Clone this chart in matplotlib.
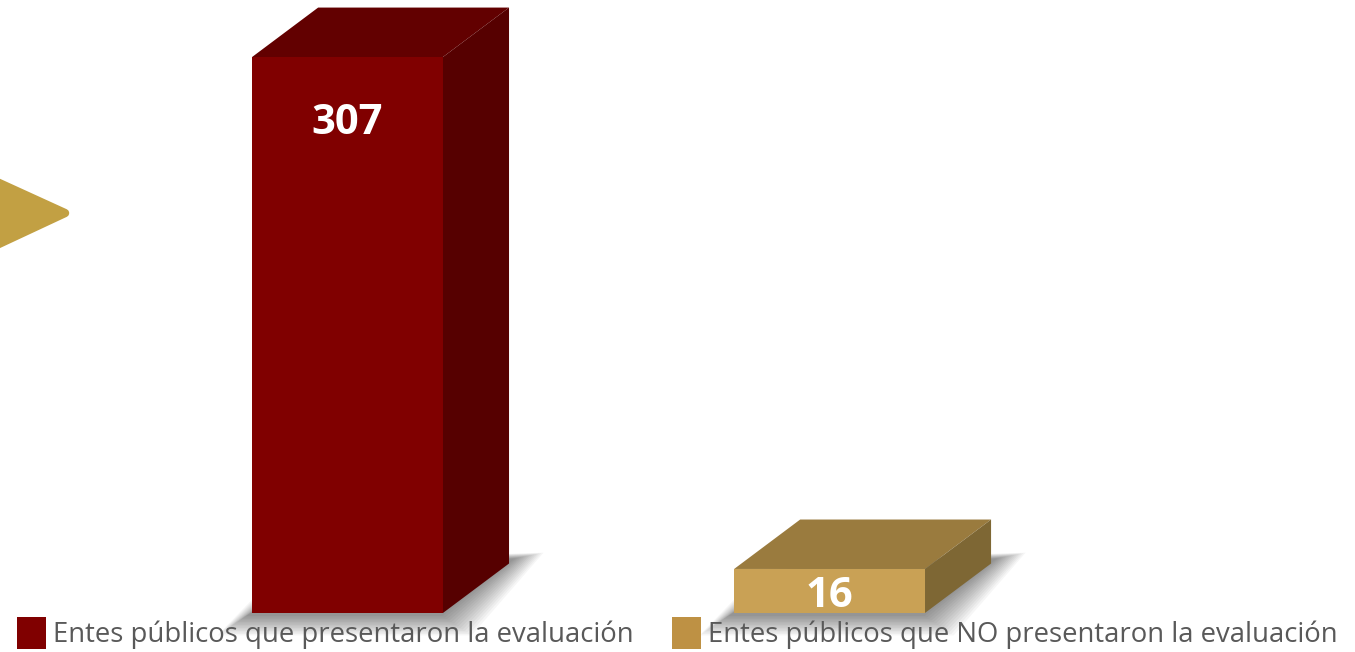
import numpy as np
import matplotlib
matplotlib.use("Agg")
from matplotlib import pyplot as plt
from matplotlib.patches import Polygon, Rectangle

# Données
categorias = ["Entes públicos que presentaron la evaluación",
              "Entes públicos que NO presentaron la evaluación"]
valores = [307, 16]

# Couleurs (face avant, dessus, côté)
col_front = ["#800000", "#C9A155"]
col_top = ["#620000", "#9A7B3E"]
col_side = ["#560000", "#7E6734"]
col_leg = ["#800000", "#BE9144"]

# Mise en page
y_floor = -9          # base du graphique 3D
larg = 0.396          # largeur des barres
prof_x, prof_y = 0.137, 28.1  # profondeur 3D

fig = plt.figure(figsize=(13.55, 6.52), dpi=100)
ax = fig.add_axes([0, 0, 1, 1])
ax.set_xlim(-0.721, 2.090)
ax.set_ylim(-31.2, 339.4)
ax.axis("off")

px_x = 482.0   # pixels par unité x
px_y = 1.7595  # pixels par unité y

for i, v in enumerate(valores):
    x0, x1 = i - larg / 2, i + larg / 2
    # ombre floue
    for k in range(14):
        ex = (k * 2.2) / px_x
        ey = (k * 1.5) / px_y
        sh = y_floor - 3 / px_y
        ombre = Polygon([(x0 - ex - 6 / px_x, sh - ey),
                         (x1 + ex, sh - ey),
                         (x1 + prof_x + ex + 6 / px_x, sh + prof_y + 8 / px_y + ey * 0.3),
                         (x0 + prof_x - ex, sh + prof_y + ey * 0.3)],
                        closed=True, facecolor="black", edgecolor="none",
                        alpha=0.035, zorder=1)
        ax.add_patch(ombre)
    # face avant
    ax.add_patch(Rectangle((x0, y_floor), larg, v - y_floor,
                           facecolor=col_front[i], edgecolor="none", zorder=3))
    # dessus
    ax.add_patch(Polygon([(x0, v), (x1, v), (x1 + prof_x, v + prof_y),
                          (x0 + prof_x, v + prof_y)],
                         closed=True, facecolor=col_top[i], edgecolor="none", zorder=3))
    # côté
    ax.add_patch(Polygon([(x1, y_floor), (x1 + prof_x, y_floor + prof_y),
                          (x1 + prof_x, v + prof_y), (x1, v)],
                         closed=True, facecolor=col_side[i], edgecolor="none", zorder=3))
    # étiquette
    y_lab = max(v - 38, (v + y_floor) / 2 - 3)
    ax.text(i, y_lab, str(v), ha="center", va="center", color="white",
            fontsize=30, fontweight="bold", family="Open Sans", zorder=5)

# Flèche décorative à gauche
fleche = Polygon([(-0.75, 238.8), (-0.586, 218.3), (-0.75, 197.3)], closed=True,
                 facecolor="#C2A043", edgecolor="#C2A043", linewidth=6,
                 joinstyle="round", zorder=2)
ax.add_patch(fleche)

# Légende
leg_x = [0.0125, 0.496]
for i, lab in enumerate(categorias):
    fig.patches.append(Rectangle((leg_x[i], 0.004), 0.0215, 0.049,
                                 transform=fig.transFigure,
                                 facecolor=col_leg[i], edgecolor="none"))
    fig.text(leg_x[i] + 0.0265, 0.027, lab, ha="left", va="center",
             color="#595959", fontsize=19.8, family="Open Sans")

fig.savefig("out.png", dpi=100, facecolor="white")
